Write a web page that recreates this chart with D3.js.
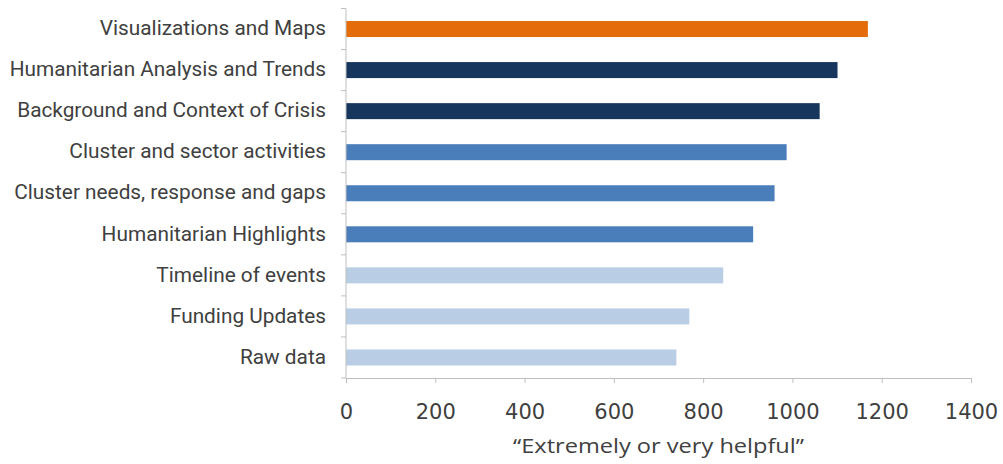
<!DOCTYPE html>
<html>
<head>
<meta charset="utf-8">
<script src="https://cdn.jsdelivr.net/npm/d3@7"></script>
<style>
  body { margin: 0; background: #fff; }
</style>
</head>
<body>
<svg id="chart" width="1003" height="464"></svg>
<script>
const categories = [
    "Visualizations and Maps",
    "Humanitarian Analysis and Trends",
    "Background and Context of Crisis",
    "Cluster and sector activities",
    "Cluster needs, response and gaps",
    "Humanitarian Highlights",
    "Timeline of events",
    "Funding Updates",
    "Raw data"
];
const values = [1169, 1101, 1061, 987, 960, 912, 845, 769, 740];
const groups = ["top", "dark", "dark", "mid", "mid", "mid", "light", "light", "light"];
const xTicks = [0, 200, 400, 600, 800, 1000, 1200, 1400];

const svg = d3.select("#chart");
const margin = { top: 8.5, left: 346, right: 32, bottom: 86 };
const width = +svg.attr("width");
const height = +svg.attr("height");
const innerWidth = width - margin.left - margin.right;
const innerHeight = height - margin.top - margin.bottom;

const g = svg.append("g").attr("transform", `translate(${margin.left},${margin.top})`);

const colorScale = d3.scaleOrdinal()
    .domain(["top", "dark", "mid", "light"])
    .range(["#e46c0a", "#17365d", "#4a7ebb", "#b9cde5"]);

const xScale = d3.scaleLinear()
    .domain([0, 1400])
    .range([0, innerWidth]);

const yScale = d3.scaleBand()
    .domain(categories)
    .range([0, innerHeight])
    .paddingInner(0.61)
    .paddingOuter(0.305);

// bars
g.selectAll("rect.bar")
    .data(categories)
    .enter()
    .append("rect")
    .attr("class", "bar")
    .attr("x", 0)
    .attr("y", d => yScale(d))
    .attr("width", (d, i) => xScale(values[i]))
    .attr("height", yScale.bandwidth())
    .attr("fill", (d, i) => colorScale(groups[i]));

// y axis line + ticks on band edges
g.append("line")
    .attr("x1", 0).attr("x2", 0)
    .attr("y1", 0).attr("y2", innerHeight)
    .attr("stroke", "#bfbfbf");

const step = innerHeight / categories.length;
g.selectAll("line.ytick")
    .data(d3.range(categories.length + 1))
    .enter()
    .append("line")
    .attr("class", "ytick")
    .attr("x1", -5).attr("x2", 0)
    .attr("y1", d => d * step)
    .attr("y2", d => d * step)
    .attr("stroke", "#bfbfbf");

g.selectAll("text.cat")
    .data(categories)
    .enter()
    .append("text")
    .attr("class", "cat")
    .attr("x", -20)
    .attr("y", d => yScale(d) + yScale.bandwidth() / 2)
    .attr("dy", "0.3em")
    .attr("text-anchor", "end")
    .attr("fill", "#404040")
    .style("font-family", "Roboto, sans-serif")
    .style("font-size", "20.8px")
    .text(d => d);

// x axis
const xAxis = g.append("g")
    .attr("transform", `translate(0,${innerHeight})`)
    .call(d3.axisBottom(xScale).tickValues(xTicks).tickSize(5).tickPadding(21).tickFormat(d3.format("d")));

xAxis.select(".domain").attr("stroke", "#bfbfbf");
xAxis.selectAll(".tick line").attr("stroke", "#bfbfbf");
xAxis.selectAll(".tick text")
    .attr("fill", "#404040")
    .style("font-family", "'DejaVu Sans', sans-serif")
    .style("font-size", "21px");

svg.append("text")
    .attr("x", margin.left + innerWidth / 2)
    .attr("y", 453)
    .attr("text-anchor", "middle")
    .attr("fill", "#404040")
    .attr("textLength", 291)
    .attr("lengthAdjust", "spacingAndGlyphs")
    .style("font-family", "'Open Sans', sans-serif")
    .style("font-size", "20px")
    .text("\u201cExtremely or very helpful\u201d");
</script>
</body>
</html>
